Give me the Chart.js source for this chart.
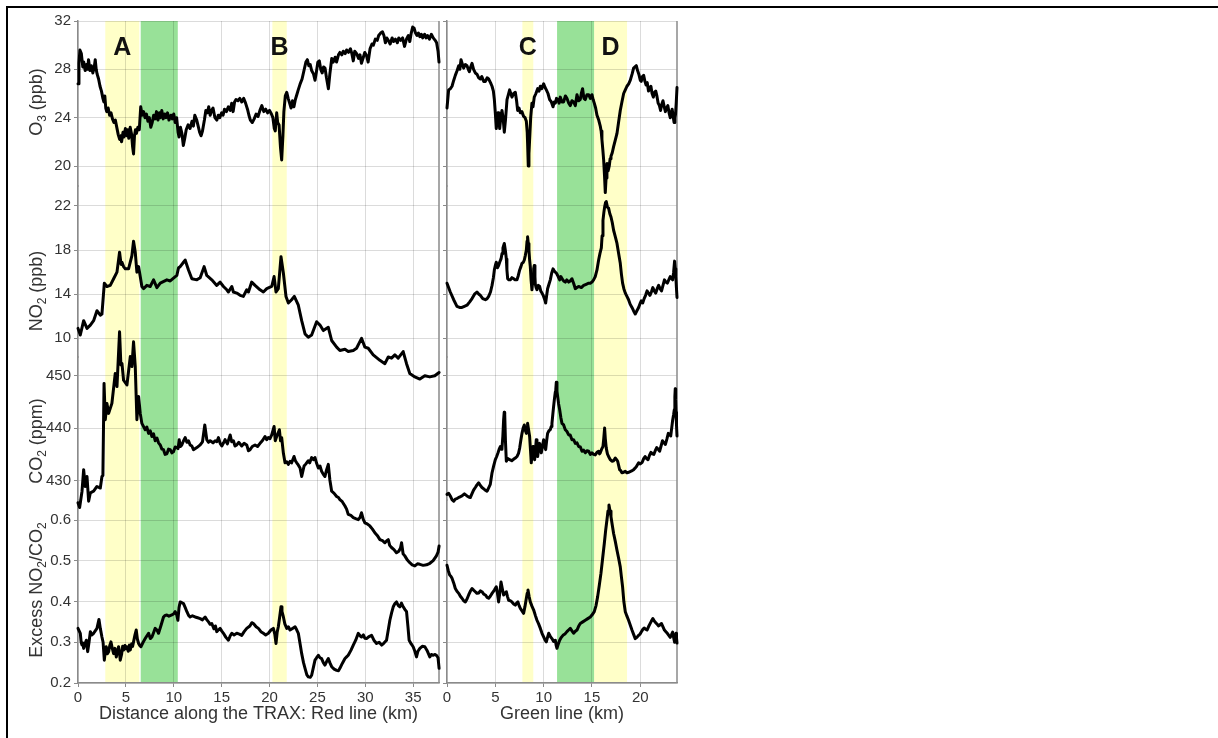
<!DOCTYPE html>
<html>
<head>
<meta charset="utf-8">
<title>TRAX transects</title>
<script src="https://cdn.jsdelivr.net/npm/chart.js@4.4.1/dist/chart.umd.min.js"></script>
<style>
  html, body { margin: 0; padding: 0; background: #fff; }
  #wrap { position: relative; width: 1218px; height: 738px; overflow: hidden; background: #fff; }
  #frame { position: absolute; left: 6px; top: 6px; right: 0; bottom: 0;
           border-top: 2px solid #000; border-left: 2px solid #000; }
  canvas { position: absolute; left: 0; top: 0; }
</style>
</head>
<body>
<div id="wrap">
  <div id="frame"></div>
  <canvas id="redLine" width="1218" height="738" style="width:1218px;height:738px"></canvas>
  <canvas id="greenLine" width="1218" height="738" style="width:1218px;height:738px"></canvas>
</div>
<script>
// ---- tick values ----
const o3Ticks = [20, 24, 28, 32];
const no2Ticks = [10, 14, 18, 22];
const co2Ticks = [430, 440, 450];
const ratioTicks = [0.2, 0.3, 0.4, 0.5, 0.6];
const redKmTicks = [0, 5, 10, 15, 20, 25, 30, 35];
const greenKmTicks = [0, 5, 10, 15, 20];

// ---- highlighted stretches (km) ----
const redYellowKm = [[2.85, 6.4], [20.3, 21.8]];
const redYellowLabels = ['A', 'B'];
const redGreenKm = [[6.55, 10.42]];
const greenYellowKm = [[7.8, 8.93], [15.22, 18.63]];
const greenYellowLabels = ['C', 'D'];
const greenGreenKm = [[11.39, 15.22]];

// ---- Red line: [km, value] ----
const redO3 = [[0,26.8],[0.1,28.5],[0.2,29.6],[0.35,29.3],[0.5,28.2],[0.6,28.6],[0.75,27.9],[0.9,28.4],[1.0,28.0],[1.1,28.8],[1.25,27.9],[1.4,28.3],[1.55,27.7],[1.7,28.2],[1.8,28.8],[1.9,28.0],[2.0,27.6],[2.15,27.2],[2.3,26.6],[2.45,26.2],[2.6,25.6],[2.7,25.3],[2.8,25.8],[2.9,24.8],[3.0,24.5],[3.15,24.8],[3.3,24.2],[3.45,24.4],[3.6,23.9],[3.75,23.6],[3.9,23.8],[4.05,23.2],[4.2,22.6],[4.35,22.2],[4.45,22.5],[4.55,22.0],[4.7,22.8],[4.8,22.4],[4.95,23.1],[5.1,22.5],[5.2,23.0],[5.3,22.3],[5.45,23.2],[5.6,22.6],[5.7,21.6],[5.8,21.0],[5.9,22.5],[6.0,23.0],[6.1,22.7],[6.25,23.2],[6.4,23.0],[6.55,24.9],[6.7,24.2],[6.85,24.5],[7.0,24.0],[7.15,24.3],[7.3,23.7],[7.45,24.0],[7.6,23.2],[7.75,23.6],[7.9,24.2],[8.05,23.9],[8.2,24.5],[8.35,23.8],[8.5,24.4],[8.6,24.0],[8.75,24.6],[8.9,23.9],[9.05,24.3],[9.2,24.0],[9.35,24.4],[9.5,23.8],[9.7,24.2],[9.85,23.9],[10.0,24.3],[10.15,23.6],[10.3,24.0],[10.45,22.8],[10.55,22.4],[10.7,23.2],[10.85,22.7],[11.0,21.7],[11.15,22.3],[11.3,23.0],[11.5,23.4],[11.7,23.1],[11.9,23.7],[12.05,23.3],[12.2,24.2],[12.4,23.8],[12.55,23.3],[12.7,22.8],[12.85,22.5],[13.0,22.9],[13.2,23.8],[13.35,24.6],[13.5,24.4],[13.65,24.9],[13.8,24.2],[13.95,24.6],[14.1,24.8],[14.3,24.0],[14.5,23.8],[14.65,24.2],[14.8,24.0],[15.0,24.4],[15.15,24.2],[15.3,24.7],[15.5,24.5],[15.7,24.9],[15.9,24.6],[16.05,25.2],[16.2,24.5],[16.35,25.3],[16.5,25.5],[16.7,25.4],[16.9,25.6],[17.1,25.3],[17.3,25.6],[17.5,25.2],[17.7,24.7],[17.85,24.2],[18.0,23.8],[18.2,23.6],[18.4,23.9],[18.6,24.3],[18.8,24.1],[19.0,24.6],[19.2,25.0],[19.4,24.5],[19.6,24.7],[19.8,24.4],[20.0,24.6],[20.2,24.3],[20.35,24.0],[20.5,23.1],[20.6,22.9],[20.75,24.4],[20.85,23.6],[21.0,23.4],[21.15,21.5],[21.27,20.5],[21.4,22.5],[21.5,24.5],[21.65,25.8],[21.8,26.1],[21.95,25.6],[22.1,25.2],[22.25,24.8],[22.4,25.4],[22.55,24.9],[22.7,25.5],[22.85,25.9],[23.0,26.3],[23.2,26.8],[23.4,27.2],[23.6,27.9],[23.8,28.6],[23.95,28.8],[24.1,28.3],[24.25,28.4],[24.4,27.9],[24.6,27.6],[24.75,27.1],[24.9,27.8],[25.05,28.6],[25.2,28.7],[25.35,28.0],[25.5,27.7],[25.65,28.2],[25.8,28.1],[25.95,27.3],[26.15,26.4],[26.3,27.6],[26.5,28.9],[26.65,28.6],[26.85,29.0],[27.0,28.6],[27.2,29.2],[27.35,29.4],[27.55,29.2],[27.7,29.5],[27.9,29.3],[28.05,29.6],[28.25,29.4],[28.45,29.7],[28.6,29.3],[28.75,28.7],[28.9,29.5],[29.1,29.3],[29.3,28.9],[29.45,29.2],[29.6,28.5],[29.8,29.0],[29.95,29.4],[30.15,29.1],[30.3,28.6],[30.5,29.7],[30.7,30.1],[30.85,30.0],[31.05,30.5],[31.25,30.4],[31.4,30.8],[31.6,31.0],[31.8,31.1],[31.95,30.8],[32.1,30.2],[32.25,30.6],[32.4,30.4],[32.6,30.1],[32.8,30.6],[32.95,30.3],[33.15,30.5],[33.35,30.2],[33.5,30.6],[33.7,30.4],[33.9,30.6],[34.1,29.9],[34.3,30.5],[34.5,30.8],[34.65,30.3],[34.8,31.0],[34.95,31.5],[35.1,31.4],[35.25,31.0],[35.4,30.8],[35.55,31.0],[35.7,30.7],[35.85,30.9],[36.0,30.6],[36.2,30.9],[36.35,30.6],[36.5,30.8],[36.7,30.5],[36.9,30.9],[37.1,30.6],[37.3,30.4],[37.45,30.2],[37.6,29.5],[37.7,28.6]];

const redNO2 = [[0,10.9],[0.24,10.3],[0.59,11.6],[0.94,10.9],[1.29,11.2],[1.63,11.6],[1.98,12.5],[2.33,12.1],[2.5,12.2],[2.75,15.0],[3.02,14.7],[3.37,14.8],[3.72,15.4],[4.07,16.0],[4.34,17.8],[4.5,16.7],[4.59,16.9],[4.76,16.5],[4.94,16.3],[5.28,16.3],[5.63,17.5],[5.8,18.8],[5.98,17.8],[6.15,16.0],[6.33,16.5],[6.5,15.6],[6.67,14.7],[6.85,14.5],[7.19,14.8],[7.54,14.7],[7.89,15.3],[8.24,14.6],[8.59,15.0],[9.28,15.3],[9.63,15.2],[10.32,15.7],[10.5,16.4],[10.67,16.5],[11.02,16.9],[11.19,17.1],[11.54,16.2],[11.89,15.4],[12.41,15.3],[12.76,15.5],[13.17,16.5],[13.45,15.7],[13.97,15.3],[14.49,14.8],[14.84,15.1],[15.19,14.7],[15.54,14.4],[15.71,14.2],[16.06,14.7],[16.23,14.2],[16.58,14.1],[16.93,13.9],[17.27,13.8],[17.62,14.4],[17.8,14.2],[18.14,15.1],[18.49,14.8],[19.01,14.4],[19.36,14.2],[19.71,14.5],[20.23,14.7],[20.48,15.6],[20.68,14.2],[20.92,14.5],[21.2,17.4],[21.45,15.9],[21.72,13.8],[21.97,13.2],[22.31,13.5],[22.59,13.8],[23.01,13.0],[23.36,11.6],[23.71,10.4],[24.05,10.1],[24.4,10.3],[24.92,11.5],[25.27,11.2],[25.62,10.7],[26.14,11.0],[26.49,9.8],[27.01,9.2],[27.35,8.9],[27.88,9.0],[28.22,8.8],[28.75,8.9],[29.09,9.1],[29.61,10.0],[29.96,9.2],[30.31,9.1],[30.83,8.5],[31.53,8.0],[32.05,7.7],[32.4,8.3],[32.74,8.2],[33.09,8.5],[33.44,8.2],[33.96,8.8],[34.31,7.7],[34.65,6.8],[35.18,6.5],[35.7,6.3],[36.22,6.6],[36.74,6.5],[37.26,6.6],[37.71,6.9]];

const redCO2 = [[0,425.8],[0.17,424.9],[0.42,428.0],[0.59,432.1],[0.76,428.9],[0.94,430.8],[1.11,426.1],[1.29,427.7],[1.63,428.0],[1.98,428.9],[2.33,428.6],[2.5,430.8],[2.6,431.0],[2.72,448.5],[2.85,441.6],[3.02,444.7],[3.2,442.8],[3.54,444.7],[3.89,450.4],[4.07,447.9],[4.34,458.3],[4.48,452.0],[4.59,452.3],[4.76,449.1],[5.11,448.2],[5.46,453.6],[5.63,451.7],[5.8,456.4],[5.98,451.7],[6.15,441.6],[6.33,446.0],[6.5,442.8],[6.67,440.9],[7.02,439.7],[7.19,440.2],[7.37,439.0],[7.54,439.5],[7.72,438.4],[7.89,438.9],[8.06,437.6],[8.24,438.1],[8.41,437.2],[8.59,436.8],[8.76,436.0],[8.93,435.9],[9.1,435.0],[9.28,435.1],[9.45,436.0],[9.63,435.9],[9.8,435.3],[9.97,435.5],[10.15,436.4],[10.32,436.3],[10.45,436.1],[10.57,437.8],[10.7,436.5],[10.84,436.8],[11.0,437.5],[11.19,438.2],[11.37,437.3],[11.54,437.6],[11.71,436.8],[11.89,436.6],[12.06,435.9],[12.41,436.3],[12.76,436.8],[13.0,437.4],[13.24,440.6],[13.45,437.8],[13.62,437.3],[13.8,437.6],[14.1,437.2],[14.32,437.6],[14.5,437.4],[14.67,438.2],[14.85,437.1],[15.02,436.6],[15.2,437.2],[15.36,437.8],[15.6,437.0],[15.89,438.7],[16.05,437.4],[16.23,437.6],[16.4,436.6],[16.58,436.8],[16.8,437.3],[17.1,436.6],[17.35,437.1],[17.62,436.8],[17.8,435.7],[17.97,435.9],[18.2,436.5],[18.49,436.8],[18.75,436.5],[19.01,437.1],[19.25,437.6],[19.53,438.4],[19.7,437.8],[19.88,438.2],[20.05,438.0],[20.23,438.7],[20.48,440.3],[20.6,437.6],[20.75,438.4],[21.03,439.7],[21.15,437.6],[21.27,438.2],[21.45,435.2],[21.62,433.4],[21.8,433.6],[21.97,433.1],[22.15,433.7],[22.31,433.4],[22.56,434.6],[22.7,433.8],[22.84,433.4],[23.0,433.0],[23.19,432.4],[23.36,430.8],[23.61,432.8],[23.8,433.2],[24.05,433.8],[24.2,433.4],[24.4,434.4],[24.6,434.0],[24.75,434.4],[24.92,433.3],[25.1,432.4],[25.27,432.8],[25.44,431.8],[25.62,431.2],[25.79,430.8],[25.95,432.0],[26.14,433.1],[26.3,430.2],[26.49,428.0],[26.75,427.6],[27.01,427.0],[27.2,426.8],[27.35,426.4],[27.6,426.0],[27.88,425.2],[28.05,424.6],[28.22,423.6],[28.5,423.4],[28.75,423.0],[29.0,422.8],[29.27,422.6],[29.45,423.0],[29.61,423.9],[29.8,422.6],[29.96,422.0],[30.2,421.8],[30.48,421.4],[30.75,420.8],[31.0,420.1],[31.25,419.6],[31.53,418.8],[31.8,418.6],[32.05,418.2],[32.25,418.6],[32.4,418.8],[32.55,417.7],[32.74,417.3],[33.0,416.9],[33.26,416.3],[33.5,416.6],[33.68,417.2],[33.79,418.2],[33.95,416.1],[34.13,415.7],[34.4,414.9],[34.65,414.4],[34.9,414.0],[35.18,413.8],[35.45,414.2],[35.7,414.1],[36.05,413.9],[36.4,414.0],[36.75,414.3],[37.09,414.8],[37.43,415.7],[37.6,416.4],[37.71,417.6]];

const redRatio = [[0,0.334],[0.12,0.328],[0.24,0.322],[0.33,0.300],[0.42,0.293],[0.5,0.298],[0.59,0.285],[0.73,0.296],[0.87,0.305],[1.01,0.277],[1.15,0.300],[1.29,0.326],[1.45,0.318],[1.63,0.322],[1.8,0.328],[1.98,0.334],[2.19,0.356],[2.33,0.334],[2.5,0.313],[2.62,0.300],[2.75,0.256],[2.85,0.278],[2.95,0.289],[3.07,0.272],[3.2,0.277],[3.32,0.292],[3.44,0.301],[3.58,0.285],[3.72,0.272],[3.86,0.285],[4.0,0.264],[4.12,0.278],[4.24,0.289],[4.33,0.275],[4.41,0.256],[4.55,0.270],[4.66,0.290],[4.76,0.281],[4.9,0.292],[5.0,0.284],[5.11,0.289],[5.25,0.278],[5.37,0.293],[5.46,0.281],[5.6,0.296],[5.7,0.290],[5.8,0.301],[5.95,0.318],[6.08,0.330],[6.2,0.308],[6.33,0.297],[6.45,0.292],[6.57,0.289],[6.8,0.300],[7.02,0.309],[7.2,0.316],[7.37,0.322],[7.55,0.309],[7.72,0.313],[7.9,0.324],[8.06,0.334],[8.25,0.330],[8.41,0.322],[8.65,0.340],[8.93,0.362],[9.1,0.366],[9.28,0.367],[9.5,0.364],[9.8,0.367],[10.0,0.370],[10.15,0.375],[10.3,0.368],[10.43,0.354],[10.55,0.385],[10.67,0.399],[10.85,0.397],[11.02,0.395],[11.2,0.385],[11.37,0.375],[11.55,0.366],[11.71,0.362],[11.95,0.365],[12.23,0.362],[12.5,0.360],[12.76,0.358],[13.0,0.355],[13.28,0.362],[13.45,0.355],[13.63,0.350],[13.8,0.344],[13.97,0.346],[14.2,0.333],[14.35,0.340],[14.49,0.326],[14.65,0.330],[14.84,0.334],[15.0,0.328],[15.19,0.322],[15.45,0.312],[15.71,0.305],[15.9,0.316],[16.06,0.322],[16.3,0.318],[16.58,0.322],[16.85,0.320],[17.1,0.317],[17.35,0.326],[17.62,0.334],[17.95,0.340],[18.15,0.348],[18.32,0.346],[18.6,0.338],[18.84,0.334],[19.1,0.326],[19.36,0.322],[19.6,0.318],[19.88,0.322],[20.15,0.330],[20.4,0.334],[20.55,0.320],[20.68,0.297],[20.8,0.325],[20.92,0.338],[21.05,0.360],[21.2,0.387],[21.3,0.376],[21.45,0.362],[21.6,0.345],[21.8,0.334],[21.97,0.338],[22.14,0.330],[22.4,0.334],[22.67,0.338],[22.85,0.330],[23.01,0.322],[23.2,0.295],[23.36,0.272],[23.55,0.250],[23.71,0.236],[23.9,0.220],[24.05,0.215],[24.25,0.214],[24.4,0.219],[24.6,0.240],[24.75,0.256],[24.92,0.262],[25.1,0.268],[25.27,0.262],[25.44,0.260],[25.62,0.250],[25.79,0.244],[25.95,0.252],[26.14,0.260],[26.3,0.250],[26.49,0.240],[26.75,0.234],[27.01,0.231],[27.2,0.230],[27.35,0.236],[27.6,0.248],[27.88,0.260],[28.05,0.264],[28.22,0.268],[28.5,0.280],[28.75,0.293],[29.0,0.305],[29.27,0.322],[29.45,0.316],[29.61,0.313],[29.8,0.318],[29.95,0.310],[30.13,0.309],[30.4,0.314],[30.66,0.317],[30.9,0.305],[31.18,0.297],[31.45,0.300],[31.71,0.293],[31.95,0.298],[32.22,0.305],[32.4,0.330],[32.57,0.354],[32.75,0.372],[32.92,0.387],[33.1,0.395],[33.26,0.399],[33.45,0.390],[33.61,0.387],[33.78,0.396],[33.96,0.387],[34.15,0.380],[34.31,0.375],[34.45,0.340],[34.58,0.305],[34.8,0.296],[35.0,0.289],[35.18,0.278],[35.35,0.264],[35.5,0.278],[35.7,0.285],[35.95,0.290],[36.22,0.289],[36.45,0.280],[36.74,0.264],[36.9,0.270],[37.09,0.268],[37.25,0.270],[37.43,0.268],[37.6,0.262],[37.71,0.236]];

// ---- Green line: [km, value] ----
const greenO3 = [[0,24.8],[0.17,26.3],[0.35,26.4],[0.52,26.6],[0.7,27.1],[0.86,27.5],[1.05,27.9],[1.21,28.3],[1.33,28.0],[1.45,28.8],[1.6,28.4],[1.72,28.1],[1.9,28.4],[2.07,28.3],[2.2,28.0],[2.31,27.8],[2.45,28.2],[2.59,28.5],[2.75,28.0],[2.93,27.7],[3.1,27.6],[3.28,27.3],[3.45,27.2],[3.6,27.4],[3.8,27.0],[3.97,27.0],[4.15,27.3],[4.31,27.2],[4.5,26.9],[4.66,26.6],[4.8,26.2],[4.9,25.5],[5.0,24.4],[5.1,23.1],[5.2,23.8],[5.28,24.4],[5.37,24.0],[5.45,23.1],[5.57,24.0],[5.69,24.6],[5.8,24.0],[5.93,22.8],[6.05,23.8],[6.21,25.5],[6.35,25.9],[6.48,26.3],[6.6,26.0],[6.72,25.7],[6.9,26.0],[7.07,26.1],[7.2,25.4],[7.31,24.6],[7.45,24.8],[7.59,24.4],[7.75,24.5],[7.93,24.1],[8.08,24.0],[8.21,23.7],[8.3,22.8],[8.34,21.9],[8.41,20.0],[8.48,21.0],[8.55,22.2],[8.66,24.0],[8.79,25.2],[8.9,24.9],[9.03,25.7],[9.2,26.0],[9.38,26.4],[9.52,26.2],[9.66,26.6],[9.8,26.4],[10.0,26.8],[10.15,26.5],[10.28,26.3],[10.45,26.0],[10.62,25.5],[10.8,25.3],[10.97,24.9],[11.1,25.3],[11.21,25.2],[11.33,25.6],[11.45,25.5],[11.6,25.2],[11.72,25.7],[11.9,25.3],[12.07,25.3],[12.25,25.8],[12.41,25.6],[12.6,25.2],[12.76,25.0],[12.93,25.4],[13.1,25.3],[13.28,25.0],[13.45,25.9],[13.62,25.4],[13.79,25.5],[13.9,26.0],[14.03,26.4],[14.17,25.6],[14.31,25.5],[14.48,25.9],[14.66,25.9],[14.83,25.6],[15.0,25.9],[15.12,25.5],[15.24,25.2],[15.38,24.8],[15.52,24.2],[15.7,23.8],[15.86,23.3],[15.95,22.9],[16.03,22.2],[16.12,21.4],[16.21,20.5],[16.3,19.2],[16.38,17.8],[16.46,19.0],[16.55,20.2],[16.67,19.6],[16.79,20.0],[16.88,20.6],[16.97,20.8],[17.1,21.1],[17.24,21.6],[17.4,22.1],[17.59,22.7],[17.75,23.6],[17.93,24.6],[18.1,25.3],[18.28,26.0],[18.45,26.3],[18.62,26.6],[18.8,26.8],[18.97,27.1],[19.15,27.6],[19.31,28.1],[19.45,28.2],[19.59,28.3],[19.72,27.9],[19.85,27.6],[20.0,27.1],[20.1,27.0],[20.22,27.4],[20.35,27.5],[20.48,27.0],[20.6,26.7],[20.72,26.9],[20.85,26.2],[20.98,26.4],[21.1,26.6],[21.22,26.0],[21.35,25.7],[21.48,26.1],[21.6,26.2],[21.72,25.8],[21.85,25.2],[21.98,25.0],[22.1,24.6],[22.22,25.1],[22.35,25.4],[22.48,24.9],[22.6,24.5],[22.72,24.8],[22.85,25.0],[22.98,24.4],[23.1,24.0],[23.2,24.4],[23.3,24.7],[23.4,24.1],[23.5,23.6],[23.58,24.0],[23.65,24.3],[23.72,25.2],[23.8,26.5]];

const greenNO2 = [[0,15.0],[0.34,14.2],[0.69,13.5],[1.03,12.9],[1.3,12.8],[1.55,12.8],[1.8,12.9],[2.07,13.0],[2.35,13.3],[2.59,13.6],[2.85,14.0],[3.1,14.2],[3.3,14.0],[3.45,13.9],[3.7,13.6],[3.97,13.5],[4.15,13.6],[4.31,13.8],[4.5,14.2],[4.66,14.8],[4.8,15.5],[4.9,16.2],[5.0,16.6],[5.1,16.9],[5.22,16.4],[5.34,16.6],[5.45,16.9],[5.59,17.2],[5.7,17.7],[5.79,18.2],[5.93,18.6],[6.05,17.9],[6.14,17.2],[6.2,16.2],[6.28,15.4],[6.4,15.3],[6.55,15.3],[6.72,15.5],[6.9,15.4],[7.05,15.3],[7.24,15.3],[7.38,15.7],[7.52,16.2],[7.65,16.5],[7.76,16.8],[7.9,16.9],[8.0,17.1],[8.1,17.5],[8.21,18.0],[8.28,18.8],[8.34,19.2],[8.41,18.6],[8.48,18.0],[8.55,17.1],[8.62,16.5],[8.7,15.3],[8.79,14.4],[8.85,15.0],[8.9,15.6],[8.97,16.3],[9.03,16.6],[9.1,15.6],[9.14,14.9],[9.22,14.6],[9.31,14.4],[9.45,14.8],[9.59,14.7],[9.7,14.3],[9.83,14.1],[9.95,13.9],[10.07,13.6],[10.15,13.4],[10.21,13.2],[10.3,13.8],[10.41,14.5],[10.55,14.9],[10.69,15.3],[10.83,15.9],[10.97,16.3],[11.1,16.1],[11.21,16.0],[11.33,15.9],[11.45,15.7],[11.55,15.5],[11.66,15.3],[11.78,15.6],[11.9,15.4],[12.07,15.2],[12.24,15.1],[12.4,15.3],[12.59,15.1],[12.75,15.2],[12.93,15.4],[13.1,15.0],[13.28,14.5],[13.45,14.6],[13.62,14.7],[13.9,14.6],[14.14,14.8],[14.4,14.9],[14.66,15.0],[14.83,15.0],[15.0,15.1],[15.17,15.3],[15.34,15.6],[15.52,16.2],[15.69,17.1],[15.83,17.7],[15.97,18.2],[16.05,19.3],[16.14,20.7],[16.23,21.4],[16.31,21.9],[16.4,22.3],[16.48,22.4],[16.6,21.9],[16.72,21.8],[16.85,21.3],[16.97,21.0],[17.1,20.5],[17.24,19.8],[17.42,19.2],[17.59,18.6],[17.76,17.7],[17.93,16.8],[18.05,15.8],[18.17,15.0],[18.3,14.5],[18.45,14.1],[18.62,13.8],[18.79,13.5],[18.95,13.1],[19.14,12.8],[19.3,12.5],[19.48,12.2],[19.65,12.5],[19.83,12.8],[20.0,13.2],[20.1,13.4],[20.25,13.2],[20.4,13.6],[20.55,13.9],[20.7,14.3],[20.85,14.1],[21.0,13.9],[21.15,14.2],[21.3,14.6],[21.45,14.3],[21.6,14.1],[21.75,14.5],[21.9,14.8],[22.05,14.5],[22.2,14.3],[22.35,14.8],[22.5,15.3],[22.65,15.1],[22.8,15.0],[22.95,15.3],[23.1,15.6],[23.25,15.4],[23.35,15.3],[23.45,16.0],[23.55,17.0],[23.62,16.3],[23.68,15.6],[23.74,14.6],[23.8,13.7]];

const greenCO2 = [[0,427.4],[0.17,427.6],[0.34,427.1],[0.52,426.4],[0.69,426.1],[0.86,426.5],[1.03,426.6],[1.3,426.9],[1.55,427.1],[1.8,427.5],[2.07,427.1],[2.25,426.9],[2.41,426.8],[2.6,427.6],[2.75,428.2],[2.93,428.7],[3.1,429.2],[3.28,429.6],[3.45,429.1],[3.62,428.7],[3.9,428.3],[4.14,428.0],[4.3,428.6],[4.48,429.3],[4.57,430.4],[4.66,431.5],[4.83,432.8],[5.0,434.0],[5.14,434.6],[5.28,435.3],[5.4,436.0],[5.52,436.5],[5.6,436.0],[5.69,436.2],[5.78,438.5],[5.86,441.6],[5.92,443.0],[5.97,442.8],[6.05,437.5],[6.14,433.7],[6.3,434.2],[6.48,434.0],[6.7,433.8],[6.9,434.1],[7.07,434.3],[7.24,434.6],[7.4,435.2],[7.52,436.2],[7.64,437.7],[7.76,439.0],[7.88,440.0],[8.0,440.6],[8.1,439.6],[8.21,439.0],[8.28,440.0],[8.34,440.9],[8.45,439.6],[8.55,438.4],[8.64,435.8],[8.72,433.4],[8.81,435.2],[8.9,436.5],[8.98,435.0],[9.07,434.0],[9.16,436.0],[9.24,437.8],[9.31,436.0],[9.38,434.6],[9.48,436.0],[9.59,437.1],[9.68,436.0],[9.76,435.3],[9.88,436.6],[10.0,437.8],[10.1,436.6],[10.21,435.9],[10.31,437.6],[10.41,439.0],[10.55,439.5],[10.69,439.7],[10.78,440.3],[10.86,440.9],[10.95,442.6],[11.03,444.1],[11.12,445.6],[11.21,446.9],[11.26,447.4],[11.31,448.7],[11.38,447.0],[11.45,446.0],[11.55,444.6],[11.66,443.5],[11.78,442.0],[11.9,440.9],[12.07,440.6],[12.24,439.7],[12.4,439.4],[12.59,438.7],[12.75,438.7],[12.93,437.8],[13.1,437.8],[13.28,437.1],[13.45,437.2],[13.62,436.5],[13.8,436.4],[13.97,435.6],[14.14,435.8],[14.31,435.3],[14.48,435.7],[14.66,435.6],[14.83,435.0],[15.0,435.3],[15.17,435.0],[15.34,434.9],[15.52,435.4],[15.69,435.6],[15.78,435.1],[15.86,435.3],[16.0,436.0],[16.14,436.5],[16.22,438.0],[16.31,440.0],[16.38,438.0],[16.48,436.2],[16.6,435.1],[16.72,434.6],[16.9,434.0],[17.07,433.7],[17.24,433.8],[17.41,434.3],[17.55,434.0],[17.66,433.7],[17.76,432.9],[17.86,432.1],[17.98,431.9],[18.1,431.5],[18.28,431.6],[18.45,431.8],[18.62,431.5],[18.79,431.6],[19.05,431.8],[19.31,432.1],[19.57,432.6],[19.83,433.4],[20.0,433.2],[20.2,433.5],[20.35,434.2],[20.5,434.6],[20.65,434.2],[20.8,434.0],[20.95,434.8],[21.1,435.4],[21.25,435.1],[21.4,435.0],[21.55,435.7],[21.7,436.3],[21.85,436.0],[22.0,435.6],[22.15,436.6],[22.3,437.6],[22.45,437.2],[22.6,436.9],[22.75,437.9],[22.9,439.0],[23.05,438.8],[23.15,438.5],[23.25,440.0],[23.35,441.5],[23.45,442.6],[23.52,443.5],[23.58,446.0],[23.62,447.5],[23.66,445.5],[23.7,443.0],[23.75,440.5],[23.8,438.5]];

const greenRatio = [[0,0.489],[0.14,0.475],[0.28,0.465],[0.4,0.462],[0.52,0.457],[0.7,0.445],[0.86,0.432],[1.03,0.425],[1.21,0.420],[1.38,0.413],[1.55,0.408],[1.72,0.402],[1.9,0.399],[2.07,0.406],[2.24,0.416],[2.41,0.425],[2.59,0.432],[2.75,0.428],[2.93,0.424],[3.1,0.420],[3.28,0.421],[3.45,0.426],[3.62,0.424],[3.8,0.418],[3.97,0.416],[4.15,0.410],[4.31,0.408],[4.48,0.413],[4.66,0.420],[4.9,0.428],[5.1,0.436],[5.22,0.420],[5.34,0.399],[5.46,0.420],[5.59,0.448],[5.72,0.432],[5.86,0.416],[6.0,0.420],[6.14,0.424],[6.26,0.412],[6.38,0.403],[6.55,0.402],[6.72,0.399],[6.9,0.394],[7.07,0.391],[7.2,0.396],[7.34,0.399],[7.46,0.390],[7.59,0.383],[7.76,0.377],[7.93,0.371],[8.07,0.388],[8.21,0.408],[8.3,0.420],[8.38,0.428],[8.5,0.412],[8.62,0.399],[8.8,0.388],[8.97,0.379],[9.14,0.366],[9.31,0.354],[9.48,0.345],[9.66,0.334],[9.83,0.322],[10.0,0.313],[10.14,0.306],[10.28,0.301],[10.4,0.312],[10.52,0.322],[10.7,0.314],[10.86,0.309],[11.03,0.302],[11.21,0.305],[11.3,0.292],[11.38,0.285],[11.52,0.296],[11.66,0.305],[11.83,0.312],[12.0,0.317],[12.2,0.320],[12.41,0.326],[12.58,0.330],[12.76,0.334],[12.93,0.328],[13.1,0.322],[13.28,0.327],[13.45,0.330],[13.62,0.339],[13.79,0.346],[14.05,0.350],[14.31,0.354],[14.57,0.358],[14.83,0.362],[15.04,0.368],[15.24,0.375],[15.42,0.390],[15.59,0.412],[15.76,0.440],[15.93,0.469],[16.1,0.505],[16.28,0.543],[16.42,0.575],[16.55,0.600],[16.66,0.622],[16.76,0.637],[16.87,0.622],[16.97,0.608],[17.1,0.588],[17.24,0.567],[17.42,0.547],[17.59,0.526],[17.76,0.506],[17.93,0.485],[18.05,0.460],[18.17,0.436],[18.3,0.400],[18.45,0.375],[18.62,0.364],[18.79,0.354],[18.97,0.342],[19.14,0.330],[19.3,0.320],[19.48,0.309],[19.65,0.312],[19.83,0.317],[19.97,0.320],[20.1,0.325],[20.25,0.331],[20.4,0.335],[20.55,0.332],[20.7,0.330],[20.85,0.338],[21.0,0.345],[21.15,0.352],[21.3,0.358],[21.45,0.352],[21.6,0.348],[21.75,0.344],[21.9,0.340],[22.05,0.343],[22.2,0.346],[22.35,0.338],[22.5,0.330],[22.65,0.326],[22.8,0.322],[22.95,0.317],[23.1,0.312],[23.22,0.318],[23.35,0.325],[23.45,0.312],[23.55,0.300],[23.62,0.312],[23.7,0.322],[23.75,0.310],[23.8,0.298]];

// ---- look ----
const FONT = "'Liberation Sans', Arial, Helvetica, sans-serif";
const INK = '#333333';
const AXIS = '#8a8a8a';
const GRID = 'rgba(0,0,0,0.14)';
const YELLOW = 'rgb(255,255,200)';
const GREEN = 'rgb(152,225,152)';

// Axis ranges: each row of the figure gets its own band of the plot height
const o3Range = [18.345, 32];
const no2Range = [8.304, 23.814];
const co2Range = [426.33, 453.52];
const ratioRange = [0.2, 0.6491];
const rowWeights = [165, 171, 143, 183];

const toXY = s => s.map(([x, y]) => ({x, y}));
const fixedTicks = vals => scale => { scale.ticks = vals.map(v => ({value: v})); };

function yAxis(range, ticks, stackWeight, order, withLabels) {
  return {
    type: 'linear', position: 'left', stack: 'rows', stackWeight, weight: order,
    min: range[0], max: range[1],
    afterBuildTicks: fixedTicks(ticks),
    afterFit: s => { s.width = withLabels ? 78 : 20; },
    grid: {color: GRID, tickColor: AXIS, tickLength: 4, lineWidth: 1},
    border: {display: true, color: AXIS, width: 1.5},
    ticks: {display: withLabels, color: INK, font: {family: FONT, size: 15}, padding: 3,
            autoSkip: false, callback: v => String(v)}
  };
}

function xAxis(max, ticks, title) {
  return {
    type: 'linear', position: 'bottom', min: 0, max,
    afterBuildTicks: fixedTicks(ticks),
    afterFit: s => { s.height = 55; },
    grid: {color: GRID, tickColor: AXIS, tickLength: 4, lineWidth: 1},
    border: {display: true, color: AXIS, width: 1.5},
    ticks: {color: INK, font: {family: FONT, size: 15}, padding: 2, maxRotation: 0,
            autoSkip: false, callback: v => String(v)},
    title: {display: true, text: title, color: INK, font: {family: FONT, size: 18},
            padding: {top: 0, bottom: 13}}
  };
}

// Rotated axis caption with chemical subscripts
function drawCaption(ctx, parts, cx, cy) {
  const big = '18px ' + FONT, small = '12px ' + FONT;
  let w = 0;
  parts.forEach(([t, sub]) => { ctx.font = sub ? small : big; w += ctx.measureText(t).width; });
  ctx.save();
  ctx.translate(cx, cy);
  ctx.rotate(-Math.PI / 2);
  ctx.textBaseline = 'middle';
  ctx.textAlign = 'left';
  ctx.fillStyle = INK;
  let px = -w / 2;
  parts.forEach(([t, sub]) => {
    ctx.font = sub ? small : big;
    ctx.fillText(t, px, sub ? 5 : 0);
    px += ctx.measureText(t).width;
  });
  ctx.restore();
}

const decor = {
  id: 'decor',
  beforeDraw(chart, args, o) {
    const {ctx, chartArea: a, scales: {x}} = chart;
    ctx.save();
    const fill = (list, color) => list.forEach(([k0, k1]) => {
      const x0 = x.getPixelForValue(k0), x1 = x.getPixelForValue(k1);
      ctx.fillStyle = color;
      ctx.fillRect(x0, a.top, x1 - x0, a.bottom - a.top);
    });
    fill(o.yellow, YELLOW);
    fill(o.green, GREEN);
    ctx.restore();
  },
  beforeDatasetsDraw(chart) {
    const {ctx, chartArea: a} = chart;
    ctx.save();
    ctx.strokeStyle = AXIS;
    ctx.lineWidth = 1.5;
    ctx.beginPath();
    ctx.moveTo(a.right, a.top);
    ctx.lineTo(a.right, a.bottom);
    ctx.stroke();
    ctx.restore();
  },
  afterDatasetsDraw(chart, args, o) {
    const {ctx, chartArea: a, scales: {x}} = chart;
    ctx.save();
    ctx.font = 'bold 25px ' + FONT;
    ctx.fillStyle = '#111';
    ctx.textAlign = 'center';
    ctx.textBaseline = 'middle';
    o.yellow.forEach(([k0, k1], i) => {
      const lab = o.labels[i];
      if (lab) ctx.fillText(lab, x.getPixelForValue((k0 + k1) / 2), a.top + 27);
    });
    ctx.restore();
    (o.captions || []).forEach(c => drawCaption(ctx, c.parts, 37.5, c.y));
  }
};

function lineSet(data, yAxisID) {
  return {data: toXY(data), yAxisID, xAxisID: 'x', borderColor: '#000', borderWidth: 3,
          pointRadius: 0, tension: 0, clip: false, borderJoinStyle: 'round', borderCapStyle: 'round'};
}

function panel(id, series, opts) {
  return new Chart(document.getElementById(id), {
    type: 'line',
    data: {datasets: [
      lineSet(series[0], 'o3'), lineSet(series[1], 'no2'),
      lineSet(series[2], 'co2'), lineSet(series[3], 'ratio')
    ]},
    options: {
      responsive: false, animation: false, devicePixelRatio: 1,
      layout: {padding: opts.padding},
      plugins: {legend: {display: false}, tooltip: {enabled: false}, title: {display: false},
                decor: opts.decor},
      scales: {
        x: xAxis(opts.xMax, opts.xTicks, opts.xTitle),
        o3: yAxis(o3Range, o3Ticks, rowWeights[0], 4, opts.labels),
        no2: yAxis(no2Range, no2Ticks, rowWeights[1], 3, opts.labels),
        co2: yAxis(co2Range, co2Ticks, rowWeights[2], 2, opts.labels),
        ratio: yAxis(ratioRange, ratioTicks, rowWeights[3], 1, opts.labels)
      }
    },
    plugins: [decor]
  });
}

panel('redLine', [redO3, redNO2, redCO2, redRatio], {
  padding: {left: 0, top: 21, right: 1218 - 439, bottom: 0},
  xMax: 37.7, xTicks: redKmTicks, xTitle: 'Distance along the TRAX: Red line (km)', labels: true,
  decor: {
    yellow: redYellowKm, green: redGreenKm, labels: redYellowLabels,
    captions: [
      {parts: [['O'], ['3', true], [' (ppb)']], y: 102},
      {parts: [['NO'], ['2', true], [' (ppb)']], y: 291},
      {parts: [['CO'], ['2', true], [' (ppm)']], y: 441},
      {parts: [['Excess NO'], ['2', true], ['/CO'], ['2', true]], y: 590}
    ]
  }
});

panel('greenLine', [greenO3, greenNO2, greenCO2, greenRatio], {
  padding: {left: 447 - 20, top: 21, right: 1218 - 677, bottom: 0},
  xMax: 23.8, xTicks: greenKmTicks, xTitle: 'Green line (km)', labels: false,
  decor: {yellow: greenYellowKm, green: greenGreenKm, labels: greenYellowLabels}
});
</script>
</body>
</html>
